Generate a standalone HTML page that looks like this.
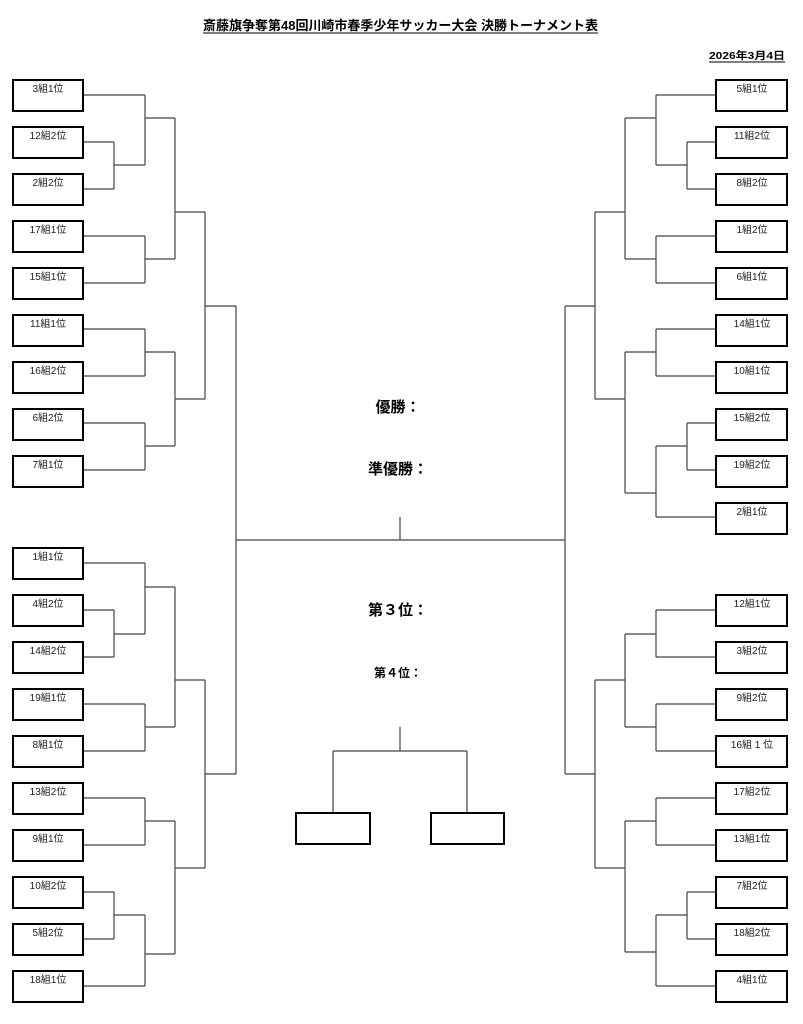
<!DOCTYPE html>
<html><head><meta charset="utf-8"><style>
html,body{margin:0;padding:0;background:#fff;}
svg{display:block;}
text{font-family:"Liberation Sans","Noto Sans CJK JP",sans-serif;}
</style></head><body>
<svg width="803" height="1024" viewBox="0 0 803 1024" xmlns="http://www.w3.org/2000/svg">
<text x="203" y="30" font-size="13" font-weight="bold" fill="#000" textLength="395" lengthAdjust="spacingAndGlyphs">斎藤旗争奪第48回川崎市春季少年サッカー大会 決勝トーナメント表</text>
<line x1="203" y1="33" x2="598" y2="33" stroke="#000" stroke-width="1"/>
<text x="709" y="59" font-size="10.5" font-weight="bold" fill="#000" textLength="76" lengthAdjust="spacingAndGlyphs">2026年3月4日</text>
<line x1="709" y1="62" x2="785" y2="62" stroke="#000" stroke-width="1"/>

<g fill="none" stroke="#444" stroke-width="1.2">
<path d="M83 95H145M83 142H114M83 189H114M114 142V189M114 165H145M145 95V165M145 118H175"/>
<path d="M83 236H145M83 283H145M145 236V283M145 259H175M175 118V259M175 212H205"/>
<path d="M83 329H145M83 376H145M145 329V376M145 352H175M83 423H145M83 470H145M145 423V470M145 446H175M175 352V446M175 399H205M205 212V399M205 306H236"/>
<path d="M83 563H145M83 610H114M83 657H114M114 610V657M114 634H145M145 563V634M145 587H175"/>
<path d="M83 704H145M83 751H145M145 704V751M145 727H175M175 587V727M175 680H205"/>
<path d="M83 798H145M83 845H145M145 798V845M145 821H175M83 892H114M83 939H114M114 892V939M114 915H145M83 986H145M145 915V986M145 954H175M175 821V954M175 868H205M205 680V868M205 774H236"/>
<path d="M236 306V774M236 540H565M400 517V540"/>
<path d="M716 95H656M716 142H687M716 189H687M687 142V189M687 165H656M656 95V165M656 118H625"/>
<path d="M716 236H656M716 283H656M656 236V283M656 259H625M625 118V259M625 212H595"/>
<path d="M716 329H656M716 376H656M656 329V376M656 352H625M716 423H687M716 470H687M687 423V470M687 446H656M716 517H656M656 446V517M656 493H625M625 352V493M625 399H595M595 212V399M595 306H565"/>
<path d="M716 610H656M716 657H656M656 610V657M656 634H625M716 704H656M716 751H656M656 704V751M656 727H625M625 634V727M625 680H595"/>
<path d="M716 798H656M716 845H656M656 798V845M656 821H625M716 892H687M716 939H687M687 892V939M687 915H656M716 986H656M656 915V986M656 952H625M625 821V952M625 868H595M595 680V868M595 774H565M565 306V774"/>
<path d="M400 727V751M333 751H467M333 751V812M467 751V812"/>
</g>

<g fill="#fff" stroke="#000" stroke-width="2">
<rect x="296" y="813" width="74" height="31"/>
<rect x="431" y="813" width="73" height="31"/>
</g>

<g font-size="15" font-weight="bold" fill="#000" text-anchor="middle">
<text x="398" y="412">優勝：</text>
<text x="398" y="474">準優勝：</text>
<text x="398" y="615">第３位：</text>
<text x="398" y="677" font-size="12">第４位：</text>
</g>

<g stroke="#000" stroke-width="2" fill="#fff">
<rect x="13" y="80" width="70" height="31"/><rect x="13" y="127" width="70" height="31"/><rect x="13" y="174" width="70" height="31"/>
<rect x="13" y="221" width="70" height="31"/><rect x="13" y="268" width="70" height="31"/><rect x="13" y="315" width="70" height="31"/>
<rect x="13" y="362" width="70" height="31"/><rect x="13" y="409" width="70" height="31"/><rect x="13" y="456" width="70" height="31"/>
<rect x="13" y="548" width="70" height="31"/><rect x="13" y="595" width="70" height="31"/><rect x="13" y="642" width="70" height="31"/>
<rect x="13" y="689" width="70" height="31"/><rect x="13" y="736" width="70" height="31"/><rect x="13" y="783" width="70" height="31"/>
<rect x="13" y="830" width="70" height="31"/><rect x="13" y="877" width="70" height="31"/><rect x="13" y="924" width="70" height="31"/>
<rect x="13" y="971" width="70" height="31"/>
<rect x="716" y="80" width="71" height="31"/><rect x="716" y="127" width="71" height="31"/><rect x="716" y="174" width="71" height="31"/>
<rect x="716" y="221" width="71" height="31"/><rect x="716" y="268" width="71" height="31"/><rect x="716" y="315" width="71" height="31"/>
<rect x="716" y="362" width="71" height="31"/><rect x="716" y="409" width="71" height="31"/><rect x="716" y="456" width="71" height="31"/>
<rect x="716" y="503" width="71" height="31"/>
<rect x="716" y="595" width="71" height="31"/><rect x="716" y="642" width="71" height="31"/><rect x="716" y="689" width="71" height="31"/>
<rect x="716" y="736" width="71" height="31"/><rect x="716" y="783" width="71" height="31"/><rect x="716" y="830" width="71" height="31"/>
<rect x="716" y="877" width="71" height="31"/><rect x="716" y="924" width="71" height="31"/><rect x="716" y="971" width="71" height="31"/>
</g>

<g font-size="10" fill="#222" text-anchor="middle">
<text x="48" y="92">3組1位</text><text x="48" y="139">12組2位</text><text x="48" y="186">2組2位</text>
<text x="48" y="233">17組1位</text><text x="48" y="280">15組1位</text><text x="48" y="327">11組1位</text>
<text x="48" y="374">16組2位</text><text x="48" y="421">6組2位</text><text x="48" y="468">7組1位</text>
<text x="48" y="560">1組1位</text><text x="48" y="607">4組2位</text><text x="48" y="654">14組2位</text>
<text x="48" y="701">19組1位</text><text x="48" y="748">8組1位</text><text x="48" y="795">13組2位</text>
<text x="48" y="842">9組1位</text><text x="48" y="889">10組2位</text><text x="48" y="936">5組2位</text>
<text x="48" y="983">18組1位</text>
<text x="752" y="92">5組1位</text><text x="752" y="139">11組2位</text><text x="752" y="186">8組2位</text>
<text x="752" y="233">1組2位</text><text x="752" y="280">6組1位</text><text x="752" y="327">14組1位</text>
<text x="752" y="374">10組1位</text><text x="752" y="421">15組2位</text><text x="752" y="468">19組2位</text>
<text x="752" y="515">2組1位</text>
<text x="752" y="607">12組1位</text><text x="752" y="654">3組2位</text><text x="752" y="701">9組2位</text>
<text x="752" y="748">16組 1 位</text><text x="752" y="795">17組2位</text><text x="752" y="842">13組1位</text>
<text x="752" y="889">7組2位</text><text x="752" y="936">18組2位</text><text x="752" y="983">4組1位</text>
</g>
</svg>
</body></html>
